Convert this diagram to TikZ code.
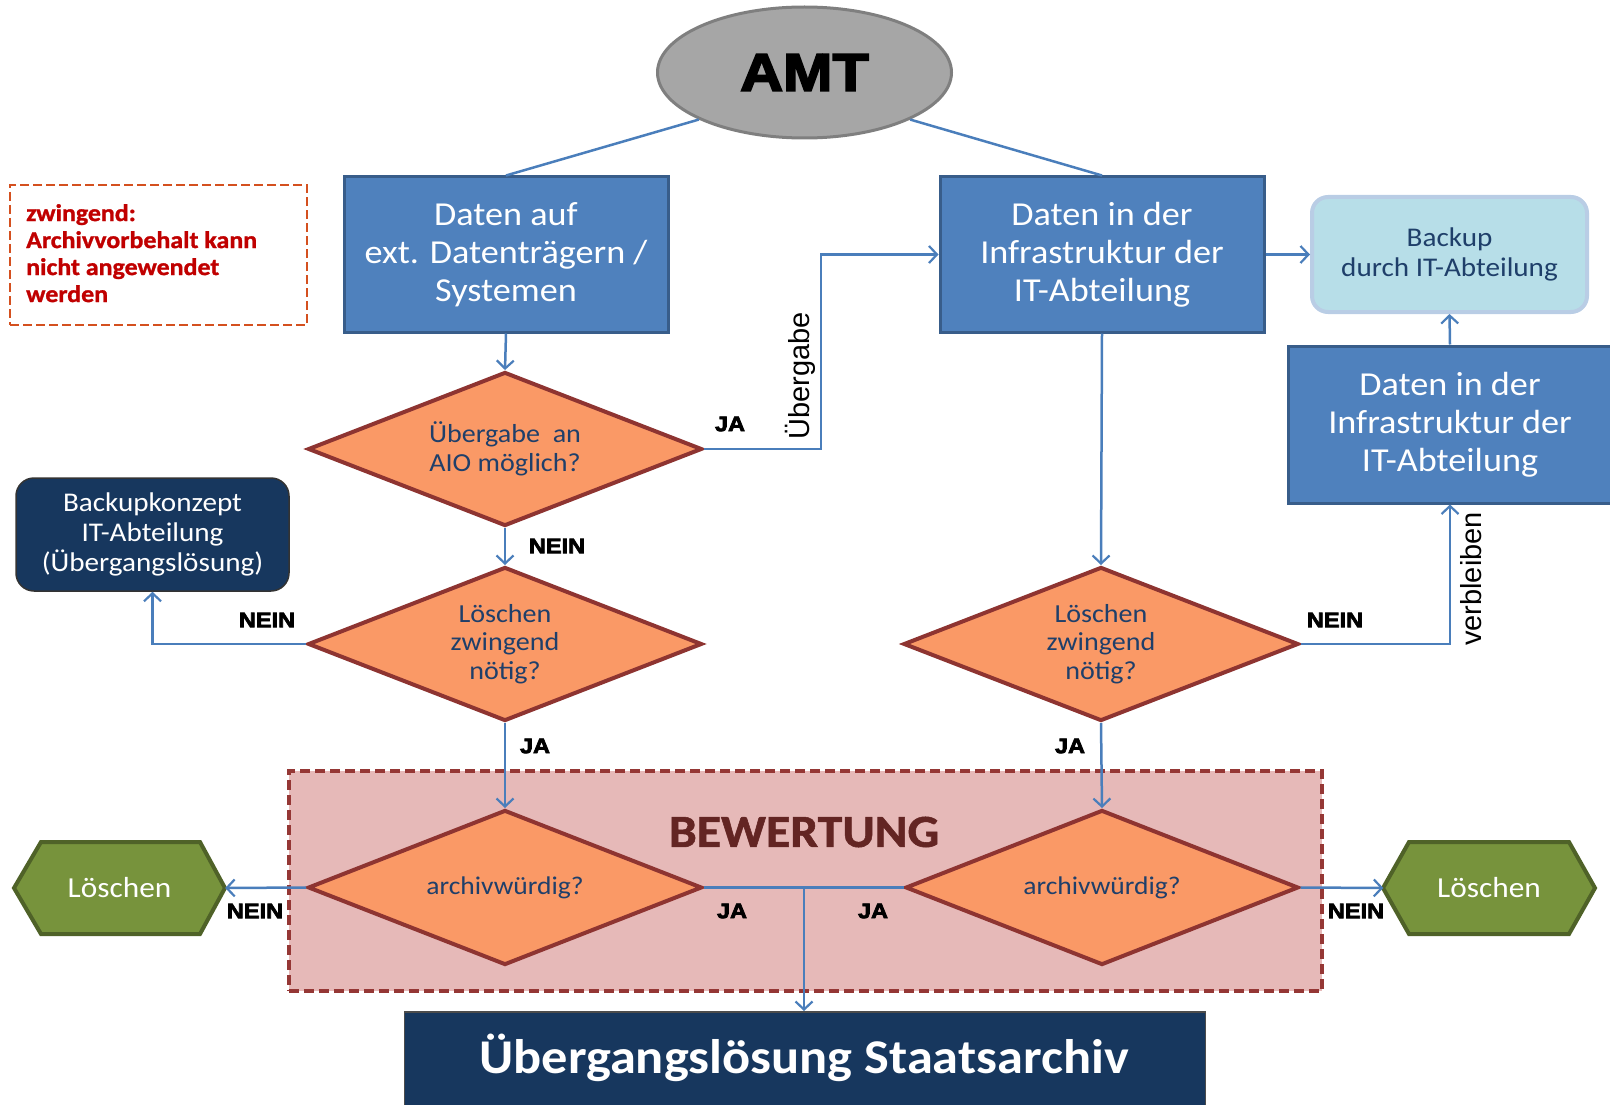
\documentclass[tikz,border=0pt]{standalone}
\usepackage{fontspec}
\setmainfont{Carlito}[FakeStretch=1.08]
\newfontfamily\arialf{Liberation Sans}
\newfontfamily\arialblack{Liberation Sans Bold}[FakeBold=3.5,FakeStretch=1.12]
\newfontfamily\heavyc{Carlito Bold}[FakeBold=1.2,FakeStretch=1.08]
\usetikzlibrary{shapes.geometric,arrows.meta,calc}
\definecolor{boxblue}{HTML}{4F81BD}
\definecolor{boxborder}{HTML}{385D8A}
\definecolor{lightfill}{HTML}{B7DEE8}
\definecolor{lightborder}{HTML}{B9CDE5}
\definecolor{navy}{HTML}{17375E}
\definecolor{navytext}{HTML}{1F3F6A}
\definecolor{diafill}{HTML}{FA9966}
\definecolor{diaborder}{HTML}{8E3431}
\definecolor{bewfill}{HTML}{E6B9B8}
\definecolor{bewborder}{HTML}{953735}
\definecolor{bewtext}{HTML}{632523}
\definecolor{greenfill}{HTML}{77933C}
\definecolor{greenborder}{HTML}{4F6228}
\definecolor{amtfill}{HTML}{A6A6A6}
\definecolor{amtborder}{HTML}{7F7F7F}
\definecolor{linecol}{HTML}{4A7EBB}
\definecolor{warnborder}{HTML}{D4501F}
\definecolor{warntext}{HTML}{C00000}
\begin{document}
\begin{tikzpicture}[x=1pt,y=-1pt,
  bluebox/.style={rectangle,fill=boxblue,draw=boxborder,line width=3pt,text=white,
    minimum width=324pt,minimum height=155pt,align=center,inner sep=0pt,
    font=\fontsize{33.5}{38}\selectfont},
  decision/.style={diamond,shape aspect=2.56,fill=diafill,draw=diaborder,line width=4pt,text=navytext,
    minimum width=394pt,minimum height=154pt,inner sep=0pt,align=center,
    font=\fontsize{26}{28.5}\selectfont},
  conn/.style={draw=linecol,line width=2.5pt,-{Straight Barb[length=8pt,width=17pt,line width=2.2pt]}},
  plainconn/.style={draw=linecol,line width=2.5pt},
  lbl/.style={font=\arialblack\fontsize{21}{21}\selectfont,text=black,inner sep=0pt},
  rotlbl/.style={font=\arialf\fontsize{29}{29}\selectfont,text=black,inner sep=0pt,rotate=90},
  hexfill/.style={fill=greenfill,draw=greenborder,line width=4pt,line join=miter},
  hexlbl/.style={text=white,font=\fontsize{29}{29}\selectfont,minimum width=211pt,minimum height=92pt,inner sep=0pt}
]
\useasboundingbox (0,0) rectangle (1610,1105);

% Bewertung region (background)
\node[draw=bewborder,fill=bewfill,dashed,dash pattern=on 10pt off 5pt,line width=4pt,
  minimum width=1033pt,minimum height=220pt,inner sep=0pt] (bew) at (805,881) {};
\node[text=bewtext,font=\heavyc\fontsize{46}{46}\selectfont,inner sep=0pt] (bewt) at (804,832) {BEWERTUNG};

% AMT
\node[ellipse,fill=amtfill,draw=amtborder,line width=3pt,minimum width=294pt,minimum height=131pt,
  font=\arialblack\fontsize{53}{53}\selectfont] (amt) at (804.5,72.5) {AMT};

% blue boxes
\node[bluebox] (box1) at (506,254.5) {Daten auf\\ext. Datentr\"agern /\\Systemen};
\node[bluebox] (box2) at (1102,254.5) {Daten in der\\Infrastruktur der\\IT-Abteilung};
\node[bluebox,minimum height=157pt] (box3) at (1450,424.5) {Daten in der\\Infrastruktur der\\IT-Abteilung};

% backup
\node[rectangle,rounded corners=16pt,fill=lightfill,draw=lightborder,line width=4pt,
  minimum width=275pt,minimum height=115pt,text=navytext,align=center,
  font=\fontsize{27}{29.5}\selectfont] (backup) at (1449.5,254.5) {Backup\\durch IT-Abteilung};

% warning
\node[draw=warnborder,dashed,dash pattern=on 9pt off 4pt,line width=2.5pt,
  minimum width=297pt,minimum height=140pt,inner sep=0pt] (warn) at (158.5,255) {};
\node[anchor=north west,text=warntext,align=left,inner sep=0pt,
  font=\heavyc\fontsize{24}{27}\selectfont] (warnt) at (26,204)
  {zwingend:\\Archivvorbehalt kann\\nicht angewendet\\werden};

% backupkonzept
\node[rectangle,rounded corners=18pt,fill=navy,draw=black!80,line width=1.5pt,
  minimum width=273pt,minimum height=113pt,text=white,align=center,
  font=\fontsize{27}{30}\selectfont] (bk) at (152.5,534.5) {Backupkonzept\\IT-Abteilung\\(\"Ubergangsl\"osung)};

% diamonds
\node[decision] (d1) at (505,449) {\"Ubergabe\ \ an\\AIO m\"oglich?};
\node[decision] (d2) at (505,644) {L\"oschen\\zwingend\\n\"otig?};
\node[decision,minimum width=395pt] (d3) at (1101,644) {L\"oschen\\zwingend\\n\"otig?};
\node[decision,minimum height=155pt,font=\fontsize{25.5}{28}\selectfont] (d4) at (505,887.5) {archivw\"urdig?};
\node[decision,minimum width=393pt,minimum height=155pt,font=\fontsize{25.5}{28}\selectfont] (d5) at (1102,887.5) {archivw\"urdig?};

% hexagons
\draw[hexfill] (14,888)--(41,842)--(200,842)--(225,888)--(200,934)--(41,934)--cycle;
\node[hexlbl] (lh) at (119.5,888) {L\"oschen};
\draw[hexfill] (1383,888)--(1409,842)--(1569,842)--(1595,888)--(1569,934)--(1409,934)--cycle;
\node[hexlbl] (rh) at (1489,888) {L\"oschen};

% bottom box
\node[rectangle,fill=navy,draw=black!70,line width=1.5pt,minimum width=801pt,minimum height=110pt,
  anchor=north,text=white,inner sep=0pt] (final) at (805,1011) {};
\node[text=white,font=\bfseries\fontsize{48.5}{48}\selectfont,inner sep=0pt] (finalt) at (804,1058)
  {\"Ubergangsl\"osung Staatsarchiv};

% connectors
\draw[plainconn] (amt.204.5) -- (box1.north);
\draw[plainconn] (amt.-24.5) -- (box2.north);
\draw[conn] (box1.south) -- (d1.north);
\coordinate (jx) at (821,449);
\draw[conn] (d1.east) -- (jx) -- (jx |- box2.west) -- (box2.west);
\draw[conn] (d1.south) -- (d2.north);
\draw[conn] (d2.west) -| (bk.south);
\draw[conn] (d2.south) -- (d4.north);
\draw[conn] (box2.south) -- (d3.north);
\draw[conn] (box2.east) -- (backup.west);
\draw[conn] (d3.east) -| (box3.south);
\draw[conn] (box3.north) -- (backup.south);
\draw[conn] (d3.south) -- (d5.north);
\draw[conn] (d4.west) -- (lh.east);
\draw[conn] (d5.east) -- (rh.west);
\coordinate (jm) at (804,887.5);
\draw[plainconn] (d4.east) -- (jm);
\draw[plainconn] (d5.west) -- (jm);
\draw[conn] (jm) -- (jm |- final.north);

% labels
\node[lbl] (l1) at (730,424) {JA};
\node[rotlbl] (l2) at (800,376) {\"Ubergabe};
\node[lbl] (l3) at (557,546) {NEIN};
\node[lbl] (l4) at (267,620) {NEIN};
\node[lbl] (l5) at (535,746) {JA};
\node[lbl] (l6) at (1070,746) {JA};
\node[lbl] (l7) at (1335,620) {NEIN};
\node[rotlbl] (l8) at (1471,579) {verbleiben};
\node[lbl] (l9) at (255,911) {NEIN};
\node[lbl] (l10) at (732,911) {JA};
\node[lbl] (l11) at (873,911) {JA};
\node[lbl] (l12) at (1356,911) {NEIN};
\end{tikzpicture}
\end{document}
